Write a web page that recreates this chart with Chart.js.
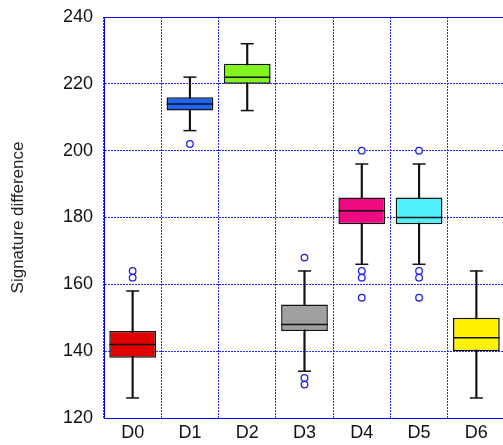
<!DOCTYPE html>
<html><head><meta charset="utf-8">
<script src="https://cdn.jsdelivr.net/npm/chart.js@4"></script>
<style>
html,body{margin:0;padding:0;overflow:hidden;background:#fff;width:503px;height:445px}
#wrap{width:520px;height:445px}
</style>
</head><body><div id="wrap"><canvas id="c" width="520" height="445"></canvas></div>
<script>
const categories = ['D0','D1','D2','D3','D4','D5','D6'];
const q1          = [138, 212, 220, 146, 178, 178, 140];
const q3          = [146, 216, 226, 154, 186, 186, 150];
const medians     = [142, 214, 222, 148, 182, 180, 144];
const whiskerLow  = [126, 206, 212, 134, 166, 166, 126];
const whiskerHigh = [158, 222, 232, 164, 196, 196, 164];
const outliers    = [[164,162],[202],[],[168,132,130],[200,164,162,156],[200,164,162,156],[]];
const boxColors   = ['#e00000','#1f64ff','#82f420','#a0a0a0','#f00a82','#50f0fa','#fff200'];
const yMin = 120, yMax = 240, yStep = 20;
const yTitle = 'Signature difference';

const outlierPoints = [];
outliers.forEach((arr, i) => arr.forEach(v => outlierPoints.push({x: categories[i], y: v})));

const FONT = 'Liberation Sans';
const BLUE = '#0000ff';
const GRID = '#2a2aff';
const INK = '#111';

function zeroPad(s){ s.paddingTop = 0; s.paddingBottom = 0; s.paddingLeft = 0; s.paddingRight = 0; }

new Chart(document.getElementById('c'), {
  type: 'bar',
  data: {
    labels: categories,
    datasets: [
      { type:'bar', data: categories.map((c,i)=>[whiskerLow[i], whiskerHigh[i]]),
        backgroundColor: INK, borderWidth: 0, barThickness: 1.5, grouped:false, order:5 },
      { type:'bar', data: categories.map((c,i)=>[q1[i], q3[i]]),
        backgroundColor: boxColors, borderColor: INK, borderWidth: 1.5, borderSkipped:false,
        barPercentage: 0.816, categoryPercentage: 1, grouped:false, order:4 },
      { type:'line', data: medians, showLine:false, pointStyle:'line', pointRadius:23.3,
        pointBorderWidth:1.5, pointBorderColor: INK, pointBackgroundColor: INK, order:3 },
      { type:'line', data: whiskerHigh, showLine:false, pointStyle:'line', pointRadius:6.5,
        pointBorderWidth:1.5, pointBorderColor: INK, pointBackgroundColor: INK, order:3 },
      { type:'line', data: whiskerLow, showLine:false, pointStyle:'line', pointRadius:6.5,
        pointBorderWidth:1.5, pointBorderColor: INK, pointBackgroundColor: INK, order:3 },
      { type:'line', data: outlierPoints, showLine:false, pointStyle:'circle', pointRadius:3.3,
        pointBorderWidth:1.3, pointBorderColor:'#2020f0', pointBackgroundColor:'#fff', order:1 }
    ]
  },
  options: {
    responsive:false, animation:false, devicePixelRatio:1,
    layout:{ autoPadding:false, padding:{ left:0, right:15, top:17, bottom:0 } },
    plugins:{ legend:{display:false}, tooltip:{enabled:false} },
    scales:{
      x:{ type:'category', labels: categories, offset:true,
          grid:{ offset:true, color:GRID, lineWidth:1, drawTicks:false },
          border:{ display:true, color:BLUE, width:1, dash:[2,1] },
          ticks:{ font:{family:FONT, size:18}, color:INK, padding:4 },
          afterFit(s){ s.height = 27; zeroPad(s); } },
      x2:{ type:'category', labels: categories, position:'top', offset:true,
          grid:{ display:false, drawTicks:false },
          ticks:{ display:false },
          border:{ display:true, color:BLUE, width:1 },
          afterFit(s){ s.height = 0; zeroPad(s); } },
      y:{ min:yMin, max:yMax,
          ticks:{ stepSize:yStep, font:{family:FONT, size:18}, color:INK, padding:11 },
          grid:{ color:GRID, lineWidth:1, drawTicks:false },
          border:{ display:true, color:BLUE, width:1, dash:[2,1] },
          title:{ display:true, text:yTitle, font:{family:FONT, size:17}, color:'#222',
                  padding:{top:8, bottom:0} },
          afterFit(s){ s.width = 104; zeroPad(s); } }
    }
  }
});
</script>
</body></html>
